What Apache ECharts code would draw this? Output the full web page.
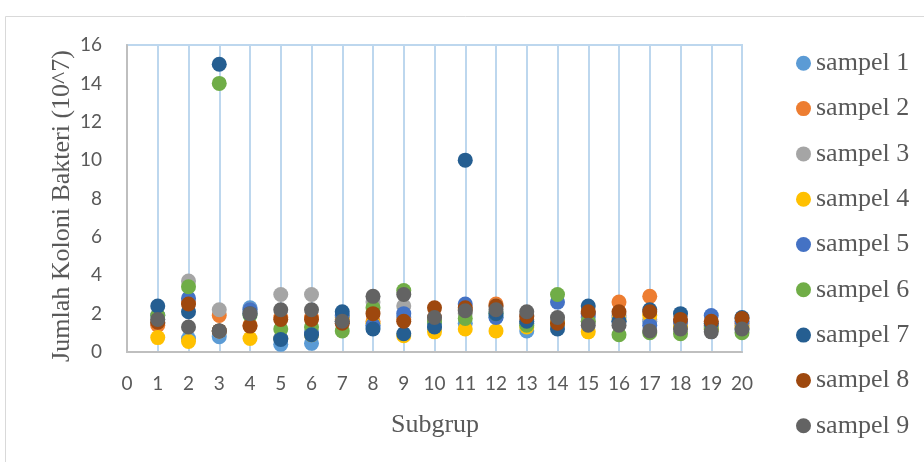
<!DOCTYPE html>
<html><head><meta charset="utf-8">
<script src="https://cdn.jsdelivr.net/npm/echarts@6/dist/echarts.min.js"></script>
<style>html,body{margin:0;padding:0;background:#fff}#c{width:924px;height:462px}</style>
</head><body><div id="c"></div>
<script>
var subgroups = [1,2,3,4,5,6,7,8,9,10,11,12,13,14,15,16,17,18,19,20];
var seriesNames = ['sampel 1','sampel 2','sampel 3','sampel 4','sampel 5','sampel 6','sampel 7','sampel 8','sampel 9'];
var s1 = [1.5,0.7,0.8,2.3,0.4,0.45,1.6,1.3,1.8,1.3,1.5,1.8,1.1,1.4,1.8,1.8,1.6,1.4,1.3,1.2];
var s2 = [1.4,2.6,1.9,1.4,1.8,1.8,1.7,1.6,1.7,1.8,2.2,2.5,1.7,1.6,2.0,2.6,2.9,1.5,1.4,1.5];
var s3 = [1.7,3.7,2.2,2.2,3.0,3.0,1.6,2.6,2.4,1.7,2.0,2.4,1.9,1.7,1.6,1.9,1.7,1.4,1.3,1.4];
var s4 = [0.75,0.55,1.1,0.7,0.7,0.9,1.8,1.5,0.85,1.05,1.2,1.1,1.3,1.5,1.05,1.7,1.9,1.3,1.2,1.3];
var s5 = [1.9,2.8,1.1,2.2,0.7,1.0,1.9,1.4,2.0,1.5,2.5,1.8,1.5,2.6,2.0,1.6,1.4,1.6,1.9,1.6];
var s6 = [1.9,3.4,14,1.9,1.2,1.3,1.1,2.3,3.2,1.6,1.75,2.0,1.4,3.0,1.6,0.9,1.0,0.95,1.2,1.0];
var s7 = [2.4,2.1,15,2.0,0.65,0.9,2.1,1.2,0.95,1.3,10,2.0,1.6,1.2,2.4,1.6,2.2,2.0,1.5,1.8];
var s8 = [1.55,2.5,1.1,1.35,1.7,1.7,1.5,2.0,1.6,2.3,2.3,2.4,1.85,1.5,2.1,2.1,2.1,1.7,1.6,1.75];
var s9 = [1.7,1.3,1.1,2.0,2.2,2.2,1.6,2.9,3.0,1.8,2.15,2.2,2.1,1.8,1.4,1.4,1.1,1.2,1.05,1.2];
var allSeries = [s1,s2,s3,s4,s5,s6,s7,s8,s9];
var colors = ['#5B9BD5','#ED7D31','#A5A5A5','#FFC000','#4472C4','#70AD47','#255E91','#9E480E','#636363'];

var chart = echarts.init(document.getElementById('c'), null, {renderer:'canvas'});
var series = allSeries.map(function(arr, i){
  return {
    name: seriesNames[i], type: 'scatter', symbol: 'circle', symbolSize: 15,
    itemStyle: {color: colors[i], opacity: 1},
    data: arr.map(function(v, j){ return [subgroups[j], v]; }),
    z: 3 + i
  };
});
chart.setOption({
  animation: false,
  color: colors,
  graphic: [
    {type:'rect', shape:{x:5.5,y:16.5,width:1000,height:1000}, style:{fill:'none', stroke:'#D9D9D9', lineWidth:1}, z:-10},
    {type:'text', x:62, y:206, rotation: Math.PI/2, style:{text:'Jumlah Koloni Bakteri (10^7)', font:'26px "Liberation Serif"', fill:'#595959', align:'center', verticalAlign:'middle'}},
    {type:'text', x:435, y:425, style:{text:'Subgrup', font:'26px "Liberation Serif"', fill:'#595959', align:'center', verticalAlign:'middle'}}
  ],
  grid: {left:127, top:45, width:615, height:307, show:true, borderColor:'#BDD7EE', borderWidth:2, backgroundColor:'transparent'},
  legend: {
    orient:'vertical', left:791, top:45.3, itemGap:19.3, itemWidth:15, itemHeight:15,
    icon:'circle',
    textStyle:{fontFamily:'Liberation Serif', fontSize:26, color:'#595959', lineHeight:25},
    data: seriesNames
  },
  xAxis: {
    type:'value', min:0, max:20, interval:1,
    axisLine:{show:true, lineStyle:{color:'#BFBFBF', width:2}},
    axisTick:{show:false},
    splitLine:{show:true, lineStyle:{color:'#BDD7EE', width:2}},
    axisLabel:{fontFamily:'Lato', fontSize:19, color:'#595959', margin:22}
  },
  yAxis: {
    type:'value', min:0, max:16, interval:2,
    axisLine:{show:true, lineStyle:{color:'#BFBFBF', width:2}},
    axisTick:{show:false},
    splitLine:{show:false},
    axisLabel:{fontFamily:'Lato', fontSize:19, color:'#595959', margin:25}
  },
  series: series
});
</script></body></html>
